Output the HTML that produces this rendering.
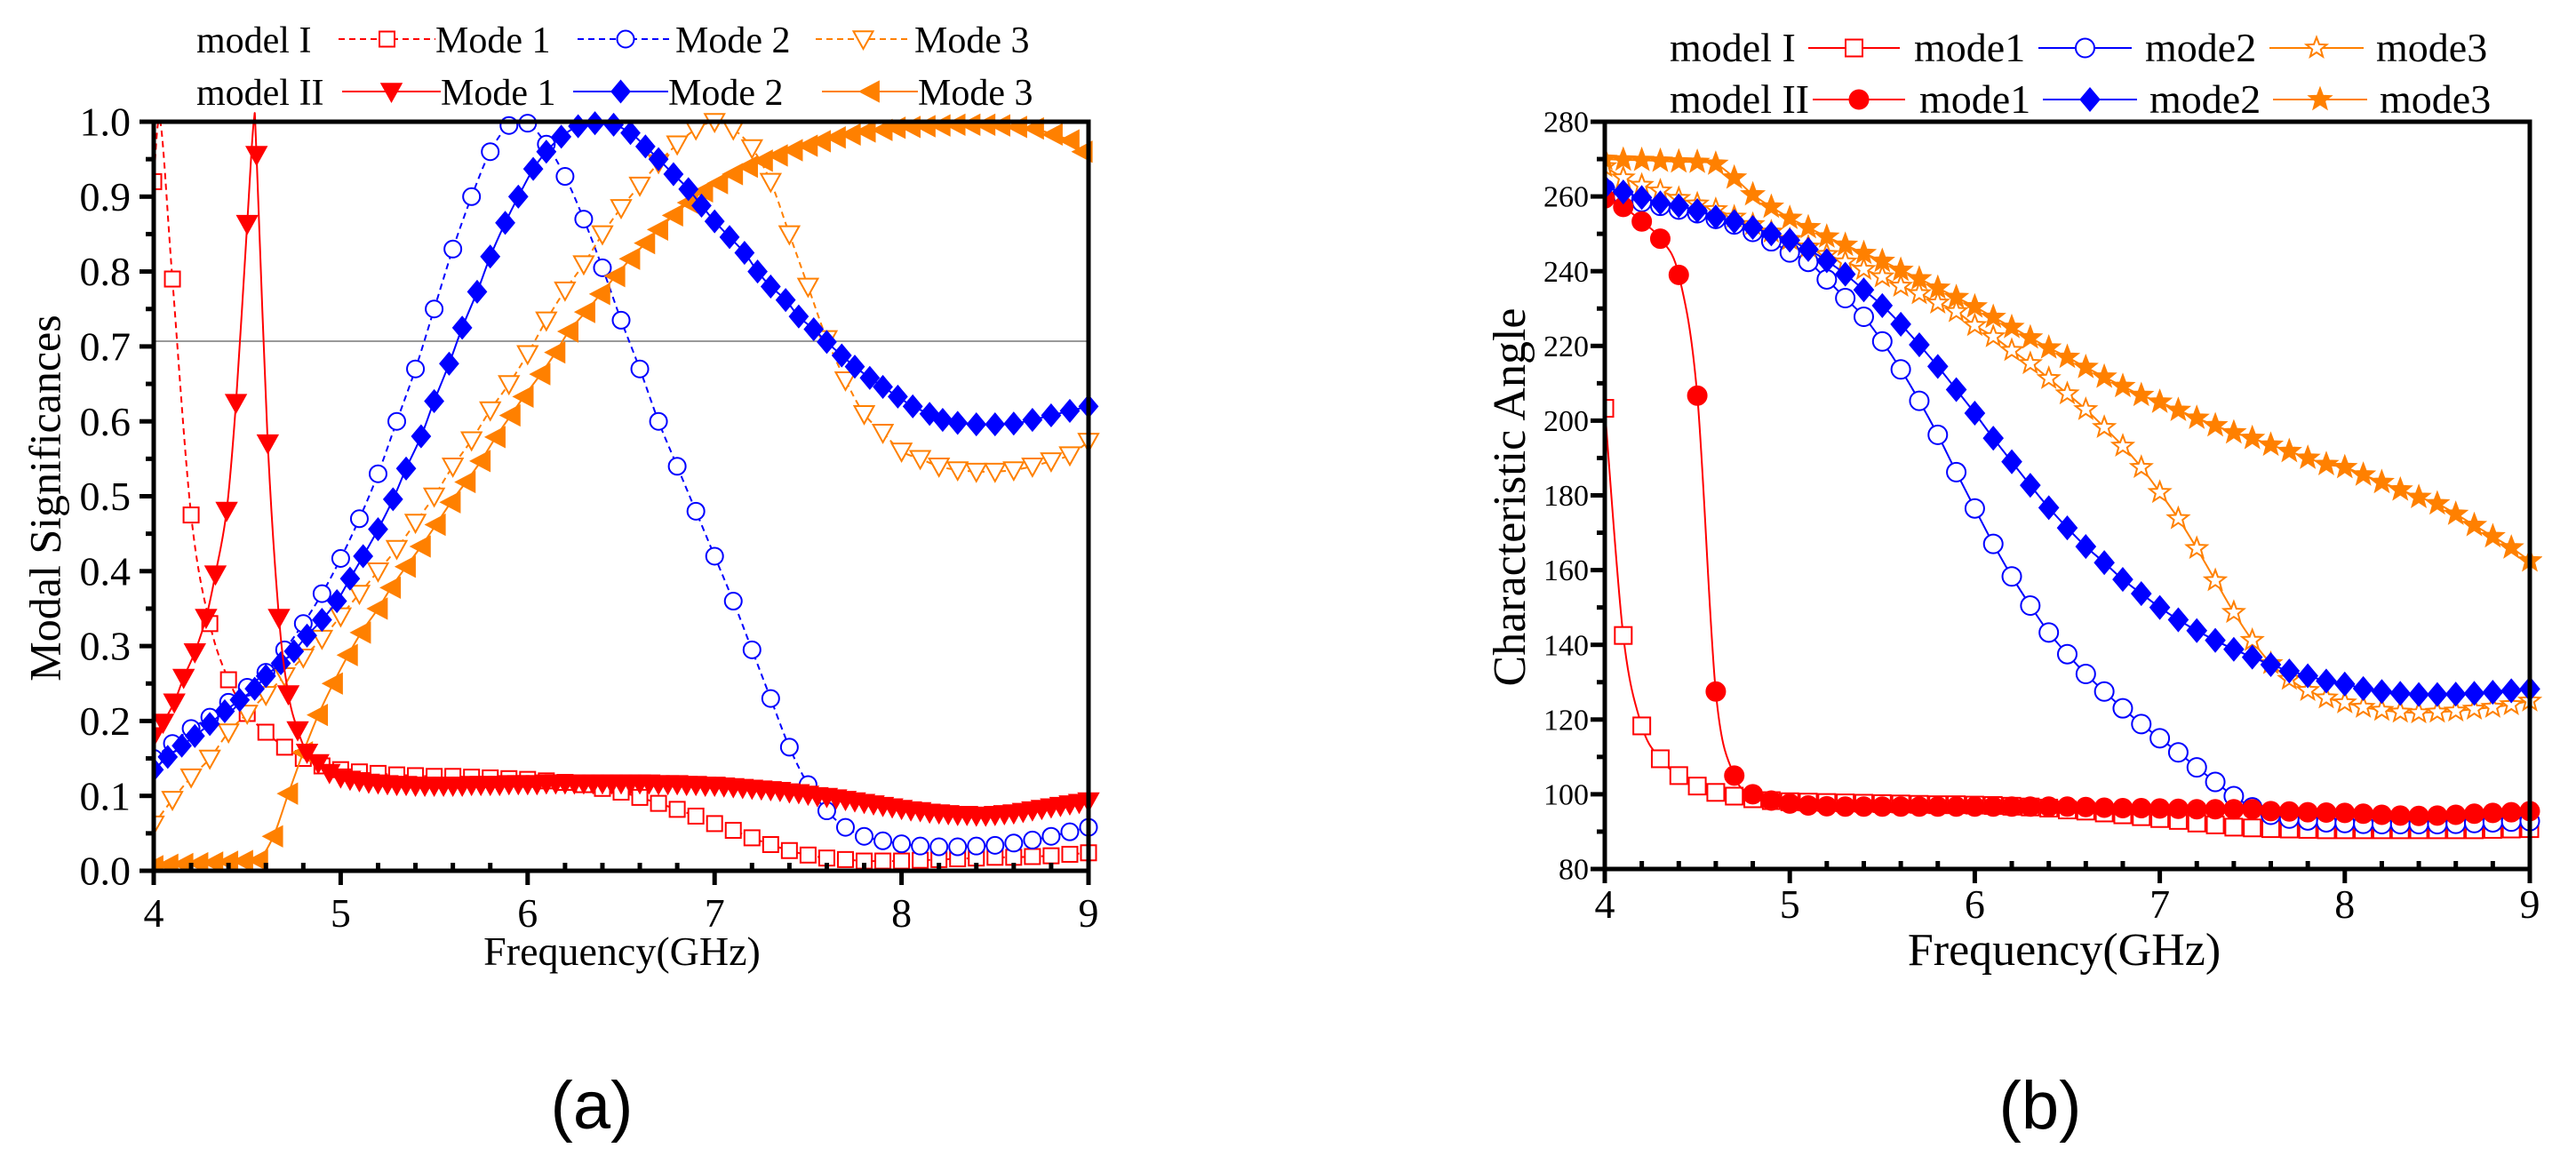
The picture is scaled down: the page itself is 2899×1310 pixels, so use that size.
<!DOCTYPE html>
<html><head><meta charset="utf-8"><style>
html,body{margin:0;padding:0;background:#fff;width:2899px;height:1310px;overflow:hidden}
svg text{font-family:"Liberation Serif",serif;fill:#000}
</style></head><body>
<svg id="svg" width="2899" height="1310" viewBox="0 0 2899 1310" xmlns="http://www.w3.org/2000/svg">
<g id="chartA"></g>
<g id="chartB"></g>
<text x="666" y="1270" font-size="76" text-anchor="middle" style="font-family:'Liberation Sans',sans-serif">(a)</text>
<text x="2296" y="1270" font-size="76" text-anchor="middle" style="font-family:'Liberation Sans',sans-serif">(b)</text>
</svg>
<script>
// ---------- Chart A data ----------
const aXTicks = [4,5,6,7,8,9];
const aYTicks = ["0.0","0.1","0.2","0.3","0.4","0.5","0.6","0.7","0.8","0.9","1.0"];
const aFreqStep = [4.0,4.1,4.2,4.3,4.4,4.5,4.6,4.7,4.8,4.9,5.0,5.1,5.2,5.3,5.4,5.5,5.6,5.7,5.8,5.9,6.0,6.1,6.2,6.3,6.4,6.5,6.6,6.7,6.8,6.9,7.0,7.1,7.2,7.3,7.4,7.5,7.6,7.7,7.8,7.9,8.0,8.1,8.2,8.3,8.4,8.5,8.6,8.7,8.8,8.9,9.0];
const aM1Mode1 = [0.92,0.79,0.475,0.33,0.255,0.21,0.185,0.165,0.15,0.14,0.135,0.132,0.13,0.128,0.127,0.126,0.126,0.125,0.124,0.123,0.122,0.12,0.118,0.115,0.11,0.105,0.098,0.09,0.082,0.073,0.063,0.054,0.044,0.035,0.027,0.021,0.017,0.015,0.013,0.013,0.013,0.014,0.015,0.016,0.017,0.018,0.018,0.019,0.02,0.022,0.024];
const aM1Mode1Peak = [4.035, 1.0];
const aM1Mode2 = [0.15,0.17,0.19,0.205,0.225,0.245,0.265,0.295,0.33,0.37,0.417,0.47,0.53,0.6,0.67,0.75,0.83,0.9,0.96,0.995,0.998,0.97,0.927,0.87,0.805,0.735,0.67,0.6,0.54,0.48,0.42,0.36,0.295,0.23,0.165,0.115,0.08,0.058,0.046,0.04,0.036,0.033,0.032,0.032,0.033,0.034,0.037,0.041,0.046,0.052,0.058];
const aM1Mode3 = [0.062,0.095,0.125,0.15,0.185,0.21,0.235,0.26,0.285,0.31,0.34,0.37,0.4,0.43,0.465,0.5,0.54,0.575,0.615,0.65,0.69,0.735,0.775,0.81,0.85,0.885,0.915,0.945,0.97,0.99,1.0,0.99,0.965,0.92,0.85,0.78,0.71,0.655,0.61,0.585,0.56,0.55,0.54,0.535,0.533,0.533,0.535,0.54,0.547,0.555,0.573];
const aM2Mode1X = [4.0,4.05,4.11,4.16,4.22,4.28,4.33,4.39,4.44,4.5,4.55,4.61,4.67,4.72,4.77,4.82,4.88,4.94,5.0,5.05,5.1,5.15,5.2,5.25,5.3,5.35,5.4,5.45,5.5,5.55,5.6,5.65,5.7,5.75,5.8,5.85,5.9,5.95,6.0,6.05,6.1,6.15,6.2,6.25,6.3,6.35,6.4,6.45,6.5,6.55,6.6,6.65,6.7,6.75,6.8,6.85,6.9,6.95,7.0,7.05,7.1,7.15,7.2,7.25,7.3,7.35,7.4,7.45,7.5,7.55,7.6,7.65,7.7,7.75,7.8,7.85,7.9,7.95,8.0,8.05,8.1,8.15,8.2,8.25,8.3,8.35,8.4,8.45,8.5,8.55,8.6,8.65,8.7,8.75,8.8,8.85,8.9,8.95,9.0];
const aM2Mode1 = [0.18,0.198,0.225,0.258,0.292,0.338,0.396,0.481,0.625,0.864,0.956,0.571,0.338,0.236,0.188,0.158,0.144,0.131,0.125,0.122,0.12,0.118,0.117,0.116,0.115,0.115,0.114,0.114,0.114,0.114,0.114,0.114,0.115,0.115,0.115,0.115,0.116,0.116,0.116,0.116,0.117,0.117,0.117,0.117,0.117,0.117,0.117,0.117,0.117,0.117,0.117,0.117,0.116,0.116,0.116,0.115,0.115,0.114,0.114,0.113,0.112,0.111,0.11,0.109,0.108,0.107,0.105,0.104,0.102,0.1,0.099,0.097,0.095,0.093,0.091,0.089,0.087,0.085,0.083,0.081,0.08,0.078,0.077,0.076,0.075,0.075,0.074,0.074,0.075,0.076,0.077,0.079,0.081,0.083,0.085,0.087,0.089,0.091,0.093];
const aM2Mode1Peak = [4.535, 1.0];
const aM2Mode2X = [4.0,4.075,4.15,4.22,4.3,4.38,4.46,4.54,4.6,4.68,4.75,4.82,4.9,4.98,5.05,5.12,5.2,5.28,5.35,5.43,5.5,5.58,5.65,5.73,5.8,5.88,5.95,6.03,6.1,6.18,6.27,6.36,6.46,6.55,6.63,6.7,6.78,6.86,6.93,7.0,7.08,7.16,7.23,7.3,7.38,7.45,7.53,7.6,7.68,7.75,7.83,7.9,7.98,8.06,8.15,8.22,8.3,8.4,8.5,8.6,8.7,8.8,8.9,9.0];
const aM2Mode2 = [0.135,0.152,0.167,0.18,0.196,0.213,0.228,0.243,0.26,0.277,0.293,0.314,0.335,0.36,0.39,0.42,0.456,0.496,0.537,0.58,0.627,0.677,0.725,0.773,0.82,0.865,0.9,0.937,0.96,0.98,0.994,0.998,0.996,0.985,0.967,0.95,0.93,0.91,0.888,0.867,0.846,0.825,0.8,0.78,0.762,0.74,0.723,0.706,0.688,0.673,0.658,0.646,0.633,0.62,0.61,0.602,0.598,0.596,0.596,0.597,0.602,0.608,0.614,0.62];
const aM2Mode3X = [4.0,4.08,4.16,4.24,4.32,4.4,4.48,4.56,4.64,4.72,4.8,4.88,4.96,5.04,5.11,5.2,5.27,5.35,5.43,5.51,5.59,5.67,5.75,5.83,5.91,5.98,6.07,6.15,6.22,6.31,6.39,6.47,6.55,6.63,6.7,6.78,6.86,6.94,7.02,7.1,7.18,7.26,7.34,7.42,7.5,7.57,7.65,7.73,7.81,7.9,7.97,8.05,8.13,8.21,8.29,8.37,8.45,8.53,8.62,8.71,8.81,8.9,8.97];
const aM2Mode3 = [0.006,0.008,0.009,0.01,0.011,0.012,0.013,0.014,0.046,0.103,0.158,0.208,0.25,0.288,0.318,0.35,0.378,0.406,0.433,0.462,0.492,0.519,0.547,0.579,0.608,0.633,0.663,0.692,0.72,0.746,0.77,0.794,0.817,0.838,0.856,0.875,0.892,0.907,0.918,0.93,0.94,0.948,0.955,0.962,0.968,0.974,0.979,0.983,0.987,0.989,0.992,0.993,0.994,0.995,0.996,0.996,0.996,0.995,0.993,0.991,0.983,0.975,0.96];
const aRefLine = 0.707;

// ---------- Chart B data ----------
const bXTicks = [4,5,6,7,8,9];
const bYTicks = [80,100,120,140,160,180,200,220,240,260,280];
const bFreq = [4.0,4.1,4.2,4.3,4.4,4.5,4.6,4.7,4.8,4.9,5.0,5.1,5.2,5.3,5.4,5.5,5.6,5.7,5.8,5.9,6.0,6.1,6.2,6.3,6.4,6.5,6.6,6.7,6.8,6.9,7.0,7.1,7.2,7.3,7.4,7.5,7.6,7.7,7.8,7.9,8.0,8.1,8.2,8.3,8.4,8.5,8.6,8.7,8.8,8.9,9.0];
const bM1Mode1 = [203.3,142.5,118.3,109.5,105,102.2,100.5,99.5,98.8,98.3,98,97.9,97.8,97.7,97.6,97.5,97.4,97.3,97.2,97.2,97.1,97,96.8,96.6,96.3,95.8,95.5,95,94.5,94,93.5,93,92.3,91.8,91.2,91,90.8,90.7,90.6,90.5,90.5,90.5,90.5,90.5,90.5,90.5,90.5,90.5,90.6,90.7,90.8];
const bM1Mode2 = [262,260,258.5,257.5,256.5,255.5,254,252.5,250.5,248,245,242.5,237.8,232.8,227.8,221.2,213.7,205.3,196.2,186.2,176.5,167,158.3,150.5,143.3,137.5,132.2,127.5,123,118.8,115,111.2,107.2,103.3,99.5,96.5,94.5,93.5,93,92.5,92.3,92.1,92,92,92,92,92.1,92.3,92.5,92.7,92.8];
const bM1Mode3 = [268,265,263,261.5,259.5,258,256.5,254.5,252.5,250.5,248.5,246.5,244.5,242.5,240.5,238.5,236,234,231.5,229.2,225.5,222.5,218.8,215.3,211.3,207.2,203,198.2,193.2,187.5,180.8,173.8,165.8,157.2,148.7,141.2,135,130.8,127.8,125.8,124.5,123.3,122.5,122,121.8,122,122.3,122.8,123.3,124,125];
const bM2Mode1 = [259.5,257.2,253.3,248.7,239,206.7,127.5,105,100,98.3,97.5,97,96.8,96.7,96.7,96.7,96.7,96.7,96.7,96.7,96.7,96.7,96.7,96.7,96.7,96.7,96.6,96.4,96.3,96.3,96.2,96.1,96,96,96,96,95.5,95.4,95.2,95.1,95,94.8,94.5,94.3,94.2,94.3,94.5,94.8,95,95.2,95.5];
const bM2Mode2 = [262.5,261.2,259.7,258.3,257.5,256.2,254.5,253.3,251.7,250,248.3,245.8,242.8,239.2,235,230.8,225.8,220.3,214.5,208.3,202,195.3,189,182.7,176.7,171.3,166.3,162,157.5,153.7,150,146.7,143.8,141.2,138.8,136.7,134.7,133,131.7,130.3,129.5,128.3,127.5,127,126.7,126.7,126.8,127,127.3,127.7,128.2];
const bM2Mode3 = [270,269.8,269.7,269.5,269.3,269.2,268.7,265,260.5,257.2,254.2,251.7,249.2,247,244.8,242.7,240.3,238,235.5,233,230.5,227.7,225,222.2,219.5,217,214.3,211.7,209.2,206.8,205,202.8,200.7,198.7,196.8,195.3,193.5,191.8,190,188.3,187.5,185.5,183.5,181.5,179.5,177.8,175,172,169,166,162.5];

const NS = "http://www.w3.org/2000/svg";
function mk(parent, tag, attrs, text){
  const e = document.createElementNS(NS, tag);
  for (const k in attrs) e.setAttribute(k, attrs[k]);
  if (text !== undefined) e.textContent = text;
  parent.appendChild(e);
  return e;
}
function smoothPath(pts){
  if (pts.length < 2) return "";
  let d = "M" + pts[0][0].toFixed(1) + "," + pts[0][1].toFixed(1);
  for (let i = 0; i < pts.length - 1; i++){
    const p0 = pts[Math.max(0,i-1)], p1 = pts[i], p2 = pts[i+1], p3 = pts[Math.min(pts.length-1,i+2)];
    const c1x = p1[0] + (p2[0]-p0[0])/6, c1y = p1[1] + (p2[1]-p0[1])/6;
    const c2x = p2[0] - (p3[0]-p1[0])/6, c2y = p2[1] - (p3[1]-p1[1])/6;
    d += " C" + c1x.toFixed(1)+","+c1y.toFixed(1)+" "+c2x.toFixed(1)+","+c2y.toFixed(1)+" "+p2[0].toFixed(1)+","+p2[1].toFixed(1);
  }
  return d;
}
function starPts(cx, cy, R){
  const r = R*0.42; let s = [];
  for (let i=0;i<10;i++){
    const a = -Math.PI/2 + i*Math.PI/5, rr = i%2===0 ? R : r;
    s.push((cx+rr*Math.cos(a)).toFixed(1)+","+(cy+rr*Math.sin(a)).toFixed(1));
  }
  return s.join(" ");
}
function marker(g, kind, cx, cy, sz, color, filled){
  const fill = filled ? color : "#fff";
  const st = {fill: fill, stroke: color, "stroke-width": 2};
  let e;
  if (kind === "square") e = mk(g, "rect", Object.assign({x: cx-sz/2, y: cy-sz/2, width: sz, height: sz}, st));
  else if (kind === "circle") e = mk(g, "circle", Object.assign({cx: cx, cy: cy, r: sz/2}, st));
  else if (kind === "tridown") e = mk(g, "polygon", Object.assign({points: (cx-sz/2)+","+(cy-sz*0.4)+" "+(cx+sz/2)+","+(cy-sz*0.4)+" "+cx+","+(cy+sz*0.5)}, st));
  else if (kind === "trileft") e = mk(g, "polygon", Object.assign({points: (cx+sz*0.45)+","+(cy-sz/2)+" "+(cx+sz*0.45)+","+(cy+sz/2)+" "+(cx-sz*0.5)+","+cy}, st));
  else if (kind === "diamond") e = mk(g, "polygon", Object.assign({points: cx+","+(cy-sz/2)+" "+(cx+sz*0.42)+","+cy+" "+cx+","+(cy+sz/2)+" "+(cx-sz*0.42)+","+cy}, st));
  else if (kind === "star") e = mk(g, "polygon", Object.assign({points: starPts(cx, cy, sz/2)}, st));
  return e;
}

function buildChart(cfg){
  const root = document.getElementById(cfg.id);
  const L = cfg.L, R = cfg.R, T = cfg.T, B = cfg.B;
  const sx = v => L + (v - cfg.xmin) / (cfg.xmax - cfg.xmin) * (R - L);
  const sy = v => B - (v - cfg.ymin) / (cfg.ymax - cfg.ymin) * (B - T);
  const clipId = cfg.id + "-clip";
  const defs = mk(root, "defs", {});
  const cp = mk(defs, "clipPath", {id: clipId});
  mk(cp, "rect", {x: L, y: T-14, width: R-L+14, height: B-T+14});

  if (cfg.refLine !== undefined){
    const rl = mk(root, "line", {x1: L, x2: R, y1: sy(cfg.refLine), y2: sy(cfg.refLine), stroke: "#999", "stroke-width": 2});
    
    
  }
  const seriesG = mk(root, "g", {"clip-path": "url(#"+clipId+")"});
  
  
  cfg.series.forEach(s => {
    const g = mk(seriesG, "g", {});
    
    
    const pts = s.x.map((xv, i) => [sx(xv), sy(s.y[i])]);
    let linePts = pts.slice();
    if (s.peak){
      const pp = [sx(s.peak[0]), sy(s.peak[1])];
      let idx = linePts.findIndex(p => p[0] > pp[0]);
      if (idx < 0) idx = linePts.length;
      linePts.splice(idx, 0, pp);
    }
    const p = mk(g, "path", {d: smoothPath(linePts), fill: "none", stroke: s.color, "stroke-width": 2});
    if (s.dash) p.setAttribute("stroke-dasharray", "7,5");
    
    
    pts.forEach((pt) => {
      const m = marker(g, s.marker, pt[0], pt[1], s.size, s.color, s.filled);
      
      
    });
  });
  const fr = mk(root, "rect", {x: L, y: T, width: R-L, height: B-T, fill: "none", stroke: "#000", "stroke-width": 5});
  
  
  const xax = mk(root, "g", {});
  
  
  for (let v = cfg.xmin; v <= cfg.xmax + 1e-9; v += 0.2){
    const x = sx(v);
    const major = Math.abs(v - Math.round(v)) < 1e-6;
    if (major) mk(xax, "line", {x1: x, x2: x, y1: B, y2: B + 16, stroke: "#000", "stroke-width": 5});
    else mk(xax, "line", {x1: x, x2: x, y1: B, y2: B - 9, stroke: "#000", "stroke-width": 5});
  }
  cfg.xTicks.forEach(v => {
    const t = mk(xax, "text", {x: sx(v), y: cfg.xLabelY, "font-size": 46, "text-anchor": "middle"}, String(v));
    
    
  });
  const xt = mk(xax, "text", {x: cfg.xTitleX, y: 1086, "font-size": cfg.titleSize, "text-anchor": "middle"}, "Frequency(GHz)");
  
  
  const yax = mk(root, "g", {});
  
  
  const minorStep = (cfg.ymax - cfg.ymin) / 20;
  for (let i = 0; i <= 20; i++){
    const y = sy(cfg.ymin + i*minorStep);
    mk(yax, "line", {x1: L, x2: L - (i%2===0 ? 16 : 9), y1: y, y2: y, stroke: "#000", "stroke-width": 5});
  }
  cfg.yTicks.forEach(lbl => {
    const t = mk(yax, "text", {x: cfg.yLabelX, y: sy(parseFloat(lbl)) + cfg.yLabelSize*0.34, "font-size": cfg.yLabelSize, "text-anchor": "end"}, String(lbl));
    
    
  });
  const ytx = cfg.yTitleX, yty = (T + B) / 2 + 2;
  const yt = mk(yax, "text", {x: ytx, y: yty, "font-size": cfg.yTitleSize, "text-anchor": "middle", transform: "rotate(-90 "+ytx+" "+yty+")", dy: "0.35em"}, cfg.yTitle);
  
  
  const lg = mk(root, "g", {});
  
  
  cfg.legend.forEach(row => {
    const rt = mk(lg, "text", {x: row.labelX, y: row.y + 15, "font-size": cfg.legendSize}, row.label);
    
    
    row.items.forEach(it => {
      const s = cfg.series[it.s];
      const ent = mk(lg, "g", {});
      
      
      const ln = mk(ent, "line", {x1: it.x1, x2: it.x2, y1: row.y, y2: row.y, stroke: s.color, "stroke-width": 2});
      if (s.dash) ln.setAttribute("stroke-dasharray", "7,5");
      marker(ent, s.marker, (it.x1 + it.x2) / 2, row.y, s.size, s.color, s.filled);
      mk(ent, "text", {x: it.tx, y: row.y + 15, "font-size": cfg.legendSize}, it.text);
    });
  });
}

const RED = "#ff0000", BLUE = "#0000ff", ORANGE = "#ff8000";
buildChart({
  id: "chartA", L: 173, R: 1225, T: 137, B: 980, xmin: 4, xmax: 9, ymin: 0, ymax: 1,
  xTicks: aXTicks, yTicks: aYTicks, xLabelY: 1043, yLabelX: 147, yLabelSize: 46,
  xTitleX: 700, yTitleX: 50, titleSize: 46, yTitleSize: 50, yTitle: "Modal  Significances", refLine: aRefLine,
  legendSize: 42,
  series: [
    {name: "model1-mode1", x: aFreqStep, y: aM1Mode1, peak: aM1Mode1Peak, color: RED, marker: "square", size: 17, filled: false, dash: true},
    {name: "model1-mode2", x: aFreqStep, y: aM1Mode2, color: BLUE, marker: "circle", size: 19, filled: false, dash: true},
    {name: "model1-mode3", x: aFreqStep, y: aM1Mode3, color: ORANGE, marker: "tridown", size: 22, filled: false, dash: true},
    {name: "model2-mode3", x: aM2Mode3X, y: aM2Mode3, color: ORANGE, marker: "trileft", size: 22, filled: true},
    {name: "model2-mode2", x: aM2Mode2X, y: aM2Mode2, color: BLUE, marker: "diamond", size: 24, filled: true},
    {name: "model2-mode1", x: aM2Mode1X, y: aM2Mode1, peak: aM2Mode1Peak, color: RED, marker: "tridown", size: 22, filled: true}
  ],
  legend: [
    {label: "model I", labelX: 221, y: 44, items: [
      {s: 0, x1: 381, x2: 490, tx: 490, text: "Mode 1"},
      {s: 1, x1: 650, x2: 758, tx: 760, text: "Mode 2"},
      {s: 2, x1: 918, x2: 1025, tx: 1029, text: "Mode 3"}]},
    {label: "model II", labelX: 221, y: 103, items: [
      {s: 5, x1: 385, x2: 496, tx: 496, text: "Mode 1"},
      {s: 4, x1: 645, x2: 752, tx: 752, text: "Mode 2"},
      {s: 3, x1: 925, x2: 1033, tx: 1033, text: "Mode 3"}]}
  ]
});
buildChart({
  id: "chartB", L: 1806, R: 2847, T: 137, B: 978, xmin: 4, xmax: 9, ymin: 80, ymax: 280,
  xTicks: bXTicks, yTicks: bYTicks, xLabelY: 1033, yLabelX: 1788, yLabelSize: 34,
  xTitleX: 2323, yTitleX: 1698, titleSize: 52, yTitleSize: 52, yTitle: "Characteristic Angle",
  legendSize: 46,
  series: [
    {name: "model1-mode1", x: bFreq, y: bM1Mode1, color: RED, marker: "square", size: 19, filled: false},
    {name: "model1-mode2", x: bFreq, y: bM1Mode2, color: BLUE, marker: "circle", size: 21, filled: false},
    {name: "model1-mode3", x: bFreq, y: bM1Mode3, color: ORANGE, marker: "star", size: 24, filled: false},
    {name: "model2-mode1", x: bFreq, y: bM2Mode1, color: RED, marker: "circle", size: 21, filled: true},
    {name: "model2-mode2", x: bFreq, y: bM2Mode2, color: BLUE, marker: "diamond", size: 25, filled: true},
    {name: "model2-mode3", x: bFreq, y: bM2Mode3, color: ORANGE, marker: "star", size: 25, filled: true}
  ],
  legend: [
    {label: "model I", labelX: 1879, y: 54, items: [
      {s: 0, x1: 2035, x2: 2138, tx: 2154, text: "mode1"},
      {s: 1, x1: 2294, x2: 2399, tx: 2414, text: "mode2"},
      {s: 2, x1: 2554, x2: 2660, tx: 2674, text: "mode3"}]},
    {label: "model II", labelX: 1879, y: 112, items: [
      {s: 3, x1: 2040, x2: 2144, tx: 2160, text: "mode1"},
      {s: 4, x1: 2299, x2: 2405, tx: 2419, text: "mode2"},
      {s: 5, x1: 2558, x2: 2664, tx: 2678, text: "mode3"}]}
  ]
});
</script>
</body></html>
